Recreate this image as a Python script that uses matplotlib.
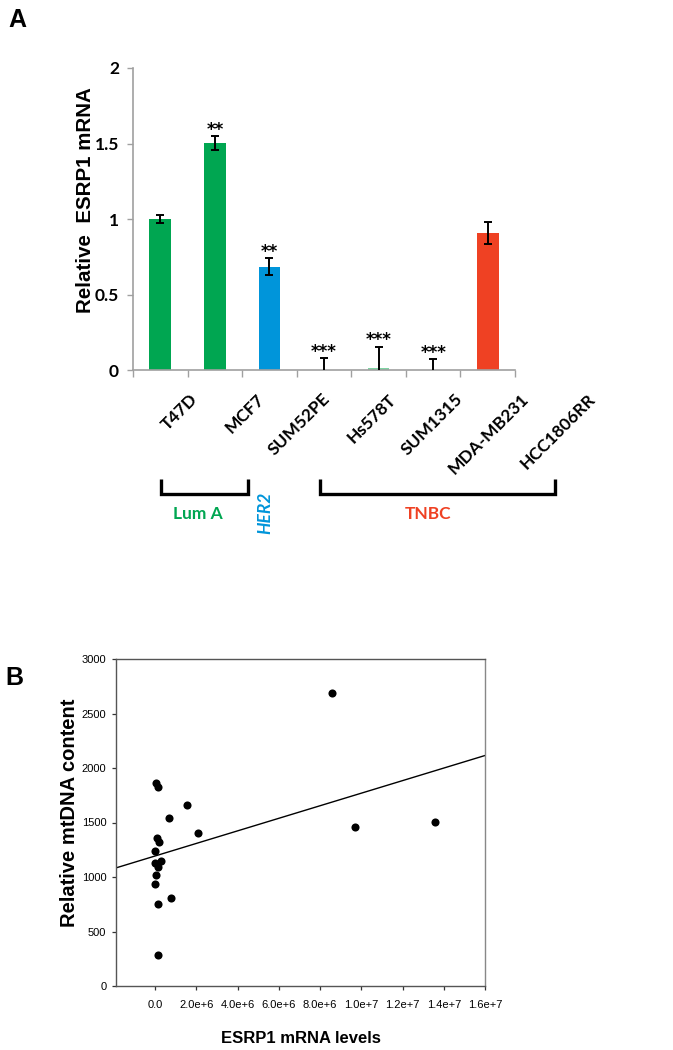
import numpy as np
import matplotlib
matplotlib.use("Agg")
import matplotlib.pyplot as plt

# ---- panel A data ----
cell_lines = ["T47D", "MCF7", "SUM52PE", "Hs578T", "SUM1315", "MDA-MB231", "HCC1806RR"]
esrp1_rel = [1.0, 1.505, 0.685, 0.0, 0.01, 0.0, 0.905]
esrp1_err = [0.027, 0.045, 0.058, 0.077, 0.145, 0.073, 0.072]
signif = ["", "**", "**", "***", "***", "***", ""]
bar_colors = ["#00A651", "#00A651", "#0095DA", "#00A651", "#7DD3A2", "#00A651", "#EF4123"]

# ---- panel B data ----
esrp1_levels = [8.56e6, 9.71e6, 1.356e7, 1.52e6, 2.07e6, 0.66e6, 0.76e6, 0.05e6, 0.16e6,
                0.08e6, 0.19e6, 0.0, 0.0, 0.26e6, 0.13e6, 0.05e6, 0.0, 0.13e6, 0.13e6]
mtdna = [2691, 1460, 1503, 1656, 1405, 1537, 805, 1864, 1824,
         1362, 1322, 1240, 1130, 1148, 1093, 1022, 937, 756, 285]
fit_intercept = 1193
fit_slope = 5.76e-5
b_xticks = [0, 2e6, 4e6, 6e6, 8e6, 1e7, 1.2e7, 1.4e7, 1.6e7]
b_xticklabels = ["0.0", "2.0e+6", "4.0e+6", "6.0e+6", "8.0e+6", "1.0e+7", "1.2e+7", "1.4e+7", "1.6e+7"]

W, H = 673, 1050
fig = plt.figure(figsize=(W / 100, H / 100), dpi=100)

def frac(x0, y0, x1, y1):
    # pixel box (top-left origin) -> figure fraction rect
    return [x0 / W, 1 - y1 / H, (x1 - x0) / W, (y1 - y0) / H]

cal = "Lato"
grey = "#A0A0A0"

# ---------------- panel A ----------------
ax = fig.add_axes(frac(133, 68, 515, 370))
x = np.arange(len(cell_lines))
ax.bar(x, esrp1_rel, width=0.4, color=bar_colors, zorder=2)
ax.errorbar(x, esrp1_rel, yerr=esrp1_err, fmt="none", ecolor="black",
            elinewidth=1.4, capsize=2.8, capthick=1.4, zorder=3)
for i, s in enumerate(signif):
    if s:
        ax.annotate(s, (x[i], esrp1_rel[i] + esrp1_err[i]), xytext=(0, -2),
                    textcoords="offset points", ha="center", va="bottom",
                    fontsize=12, fontweight="bold", family="DejaVu Sans")
ax.set_xlim(-0.5, len(cell_lines) - 0.5)
ax.set_ylim(0, 2)
ax.set_yticks([0, 0.5, 1, 1.5, 2])
ax.set_yticklabels(["0", "0.5", "1", "1.5", "2"], fontsize=12.5, fontweight="bold", family=cal)
ax.set_xticks(np.arange(-0.5, len(cell_lines), 1.0))
ax.set_xticklabels([])
ax.tick_params(axis="x", direction="out", length=5, color=grey, width=1)
ax.tick_params(axis="y", direction="out", length=4, color=grey, width=1, pad=6)
for sp in ["top", "right"]:
    ax.spines[sp].set_visible(False)
for sp in ["left", "bottom"]:
    ax.spines[sp].set_color(grey)
    ax.spines[sp].set_linewidth(1.2)
ax.set_ylabel("Relative  ESRP1 mRNA", fontsize=14.8, fontweight="bold",
              family="Liberation Sans")
ax.yaxis.set_label_coords(-0.099, 0.563)

# ---------------- panel B ----------------
bx = fig.add_axes(frac(116, 659, 485, 986))
bx.scatter(esrp1_levels, mtdna, s=34, color="black", zorder=3, linewidths=0)
xl = np.array([-1.9e6, 1.6e7])
bx.plot(xl, fit_intercept + fit_slope * xl, color="black", lw=1.0, zorder=2)
bx.set_xlim(-1.9e6, 1.6e7)
bx.set_ylim(0, 3000)
bx.set_xticks(b_xticks)
bx.set_xticklabels(b_xticklabels, fontsize=8, family="Liberation Sans")
bx.set_yticks([0, 500, 1000, 1500, 2000, 2500, 3000])
bx.set_yticklabels(["0", "500", "1000", "1500", "2000", "2500", "3000"],
                   fontsize=8, family="Liberation Sans")
bx.tick_params(direction="out", length=3, width=0.9, color="#333333", pad=4)
bx.tick_params(axis="x", pad=7)
for sp in bx.spines.values():
    sp.set_color("#555555")
    sp.set_linewidth(1.0)
bx.spines["right"].set_color("#888888")
bx.set_xlabel("ESRP1 mRNA levels", fontsize=12, fontweight="bold",
              family="Liberation Sans", labelpad=15)
bx.set_ylabel("Relative mtDNA content", fontsize=14.5, fontweight="bold",
              family="Liberation Sans")
bx.yaxis.set_label_coords(-0.10, 0.529)

# ---------------- overlay: labels, brackets ----------------
ov = fig.add_axes([0, 0, 1, 1])
ov.set_xlim(0, W)
ov.set_ylim(H, 0)
ov.axis("off")
ov.patch.set_alpha(0)

for i, name in enumerate(cell_lines):
    ov.text(201 + 66.2 * i, 391, name, rotation=45, ha="right", va="top",
            fontsize=12.5, fontweight="bold", family=cal)

for (xa, xb) in [(161, 248), (320, 555)]:
    ov.plot([xa, xa, xb, xb], [479, 494, 494, 479], color="black", lw=2.4,
            solid_joinstyle="miter", solid_capstyle="butt")

ov.text(198, 514, "Lum A", color="#00A651", ha="center", va="center",
        fontsize=12.5, fontweight="bold", family=cal)
ov.text(265, 513, "HER2", color="#0095DA", ha="center", va="center", rotation=90,
        fontsize=12.5, fontweight="bold", style="italic", family=cal)
ov.text(428, 514, "TNBC", color="#EF4123", ha="center", va="center",
        fontsize=12.5, fontweight="bold", family=cal)

ov.text(8, 20, "A", fontsize=18, fontweight="bold", family="Liberation Sans",
        ha="left", va="center")
ov.text(5, 678, "B", fontsize=18, fontweight="bold", family="Liberation Sans",
        ha="left", va="center")

fig.savefig("out.png", dpi=100)
